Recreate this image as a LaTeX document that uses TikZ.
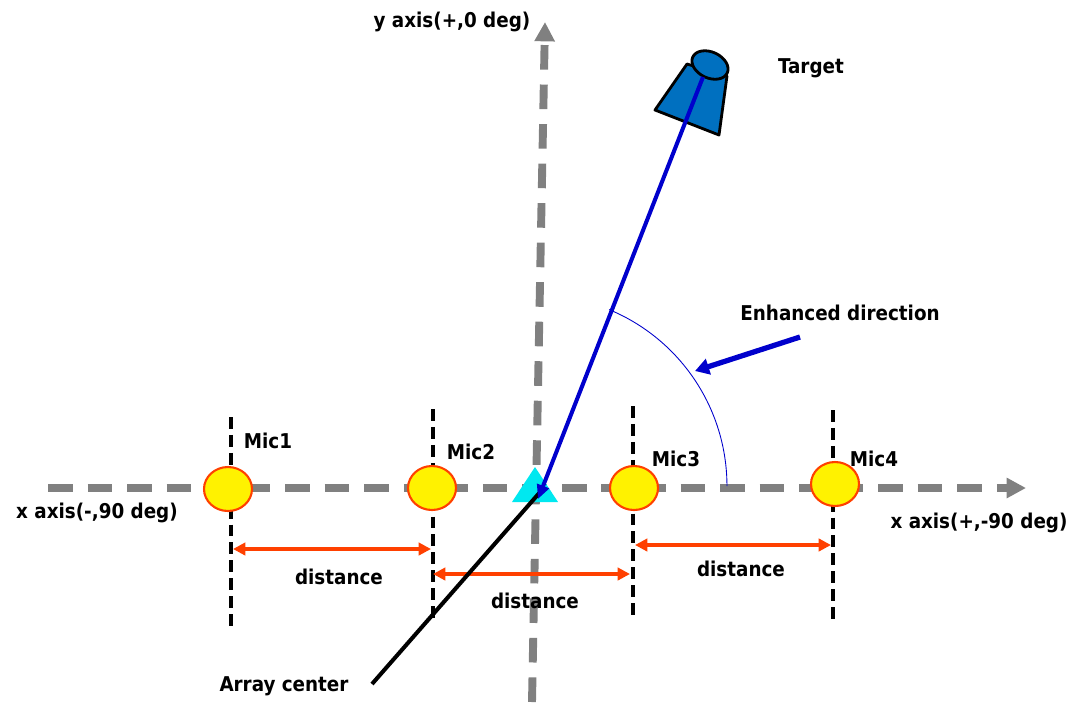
\documentclass[tikz,border=0pt]{standalone}
\usepackage{fontspec}
\setmainfont{DejaVu Sans Condensed}
\usetikzlibrary{arrows.meta,shapes.geometric}
\definecolor{axisgray}{RGB}{128,128,128}
\definecolor{micred}{RGB}{255,64,0}
\definecolor{dirblue}{RGB}{0,0,204}
\definecolor{cupblue}{RGB}{0,112,192}
\definecolor{arraycyan}{RGB}{0,232,240}
\begin{document}
\begin{tikzpicture}[x=0.02cm, y=-0.02cm, line cap=butt, line join=round,
  lbl/.style={font=\fontsize{11.6}{13}\selectfont\bfseries, inner sep=0pt},
  axis/.style={axisgray, line width=4.5pt, dash pattern=on 14pt off 8.5pt, -{Triangle[length=11pt, width=11pt]}},
  micline/.style={black, line width=2.2pt, dash pattern=on 6.8pt off 3.4pt},
  mic/.style={ellipse, draw=micred, fill=yellow, line width=1.2pt, minimum width=0.96cm, minimum height=0.88cm, inner sep=0pt},
  dist/.style={micred, line width=2.2pt, {Triangle[length=7pt, width=7pt]}-{Triangle[length=7pt, width=7pt]}}]
  \useasboundingbox (0,0) rectangle (1089,711);
  % axes
  \coordinate (xl) at (48,488);
  \coordinate (xr) at (1026,488);
  \coordinate (yb) at (532,702);
  \coordinate (yt) at (545,22);
  \draw [axis] (xl) -- (xr);
  \draw [axis] (yb) -- (yt);
  % microphone lines
  \coordinate (t1) at (231,417); \coordinate (b1) at (231,630);
  \coordinate (t2) at (433,409); \coordinate (b2) at (433,620);
  \coordinate (t3) at (633,406); \coordinate (b3) at (633,618);
  \coordinate (t4) at (833,410); \coordinate (b4) at (833,624);
  \draw [micline] (t1) -- (b1);
  \draw [micline] (t2) -- (b2);
  \draw [micline] (t3) -- (b3);
  \draw [micline] (t4) -- (b4);
  % microphones
  \node [mic] (m1) at (228,489) {};
  \node [mic] (m2) at (432,488) {};
  \node [mic] (m3) at (634,488) {};
  \node [mic] (m4) at (835,484) {};
  \node [lbl] (l1) at (268,441) {Mic1};
  \node [lbl] (l2) at (471,452) {Mic2};
  \node [lbl] (l3) at (676,459) {Mic3};
  \node [lbl] (l4) at (874,459) {Mic4};
  % distances
  \coordinate (d1a) at (233,549); \coordinate (d1b) at (431,549);
  \coordinate (d2a) at (433,574); \coordinate (d2b) at (630,574);
  \coordinate (d3a) at (635,545); \coordinate (d3b) at (831,545);
  \draw [dist] (d1a) -- (d1b);
  \draw [dist] (d2a) -- (d2b);
  \draw [dist] (d3a) -- (d3b);
  \node [lbl] (n1) at (339,577) {distance};
  \node [lbl] (n2) at (535,601) {distance};
  \node [lbl] (n3) at (741,569) {distance};
  % array center
  \coordinate (c) at (536,486);
  \fill [arraycyan] (535,467) -- (558,502) -- (512,502) -- cycle;
  \coordinate (ac) at (372,684);
  \draw [black, line width=2.3pt] (ac) -- (541,491);
  \node [lbl] (acl) at (284,686) {Array center};
  % target
  \draw [fill=cupblue, line width=1.6pt] (687,64) -- (727,76) -- (719,135) -- (655,110) -- cycle;
  \draw [fill=cupblue, line width=1.6pt, rotate around={-25:(710,65)}] (710,65) ellipse [x radius=0.38cm, y radius=0.26cm];
  \coordinate (tg) at (703,77);
  \draw [dirblue, line width=2.3pt, -{Triangle[length=8pt, width=7pt]}] (tg) -- (538,499);
  \node [lbl] (tgl) at (811,68) {Target};
  % enhanced direction
  \draw [dirblue, line width=0.5pt] (c) ++(0:3.82cm) arc (0:67.5:3.82cm);
  \coordinate (ea) at (800,337);
  \coordinate (eb) at (695,371);
  \draw [dirblue, line width=3pt, -{Triangle[length=8pt, width=9pt]}] (ea) -- (eb);
  \node [lbl] (edl) at (840,313) {Enhanced direction};
  % axis labels
  \node [lbl] (xll) at (97,513) {x axis(-,90 deg)};
  \node [lbl] (xrl) at (979,523) {x axis(+,-90 deg)};
  \node [lbl] (ytl) at (452,22) {y axis(+,0 deg)};
\end{tikzpicture}
\end{document}
